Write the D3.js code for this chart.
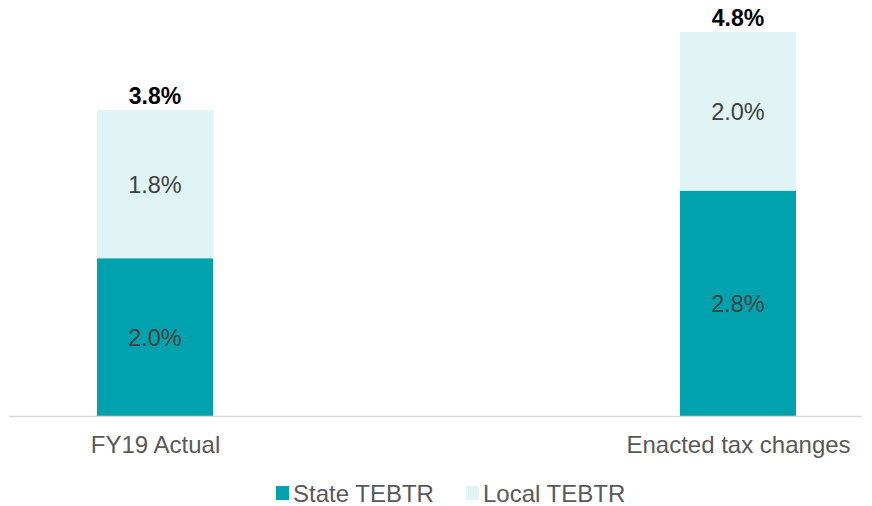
<!DOCTYPE html>
<html>
<head>
<meta charset="utf-8">
<script src="https://cdn.jsdelivr.net/npm/d3@7"></script>
<style>
  body { margin: 0; background: #fff; }
  svg { font-family: "Liberation Sans", Arial, sans-serif; }
</style>
</head>
<body>
<svg width="872" height="506"></svg>
<script>
// data
var categories = ["FY19 Actual", "Enacted tax changes"];
var stateValues = [1.96, 2.80];
var localValues = [1.84, 1.97];
var seriesNames = ["State TEBTR", "Local TEBTR"];
var colors = ["#00a3ad", "#e1f4f5"];

var svg = d3.select("svg"),
    baseline = 416;

var x = d3.scalePoint().domain(categories).range([155, 738]),
    y = d3.scaleLinear().domain([0, 5]).range([baseline, 13.5]),
    barW = 116;

var rows = categories.map(function(c, i) {
  return {cat: c, state: stateValues[i], local: localValues[i]};
});
var stack = d3.stack().keys(["state", "local"])(rows);

var fmt = function(v) { return v.toFixed(1) + "%"; };

var g = svg.append("g");

stack.forEach(function(layer, li) {
  g.selectAll(".seg" + li)
    .data(layer)
    .enter().append("rect")
      .attr("x", function(d) { return x(d.data.cat) - barW / 2; })
      .attr("y", function(d) { return y(d[1]); })
      .attr("width", barW)
      .attr("height", function(d) { return y(d[0]) - y(d[1]); })
      .attr("fill", colors[li]);

  g.selectAll(".lbl" + li)
    .data(layer)
    .enter().append("text")
      .attr("x", function(d) { return x(d.data.cat); })
      .attr("y", function(d) { return (y(d[0]) + y(d[1])) / 2; })
      .attr("dy", "0.36em")
      .attr("text-anchor", "middle")
      .attr("font-size", 23.5)
      .attr("fill", "#404040")
      .text(function(d) { return fmt(d[1] - d[0]); });
});

// totals
g.selectAll(".total")
  .data(rows)
  .enter().append("text")
    .attr("x", function(d) { return x(d.cat); })
    .attr("y", function(d) { return y(d.state + d.local) - 6; })
    .attr("text-anchor", "middle")
    .attr("font-size", 23)
    .attr("font-weight", "bold")
    .attr("fill", "#000")
    .text(function(d) { return fmt(d.state + d.local); });

// axis line
svg.append("line")
    .attr("x1", 9).attr("x2", 862)
    .attr("y1", baseline + 0.5).attr("y2", baseline + 0.5)
    .attr("stroke", "#d9d9d9")
    .attr("stroke-width", 1.5);

var xAxis = svg.append("g")
    .attr("transform", "translate(0," + baseline + ")")
    .call(d3.axisBottom(x).tickSize(0).tickPadding(20));
xAxis.select(".domain").remove();
xAxis.selectAll("text")
    .attr("font-size", 24)
    .attr("font-family", "Liberation Sans, Arial, sans-serif")
    .attr("fill", "#595959");

// legend
var legendX = [276, 466];
var legend = svg.selectAll(".legend")
  .data(seriesNames)
  .enter().append("g")
    .attr("transform", function(d, i) { return "translate(" + legendX[i] + ",486)"; });
legend.append("rect")
    .attr("width", 13).attr("height", 14)
    .attr("fill", function(d, i) { return colors[i]; });
legend.append("text")
    .attr("x", 17).attr("y", 15.5)
    .attr("font-size", 24)
    .attr("fill", "#595959")
    .text(function(d) { return d; });
</script>
</body>
</html>
